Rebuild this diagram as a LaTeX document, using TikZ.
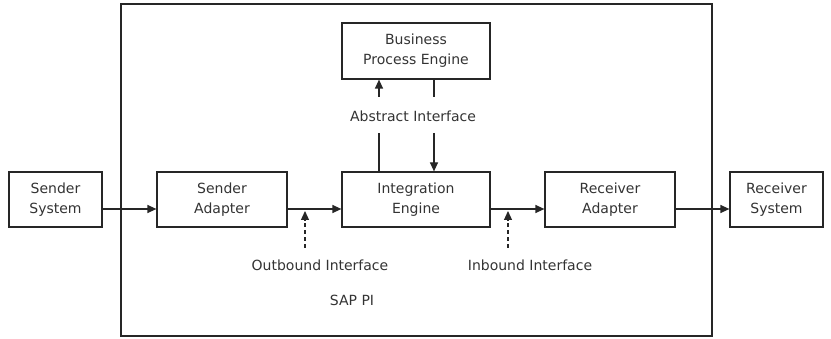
\documentclass[tikz,border=0pt]{standalone}
\usepackage{fontspec}
\setmainfont{DejaVu Sans}
\usetikzlibrary{arrows.meta}
\begin{document}
\begin{tikzpicture}[x=1pt,y=-1pt,
  every node/.style={font=\fontsize{14}{20}\selectfont, text=black!80},
  blk/.style={draw=black!85, line width=1.2pt, minimum height=55pt, align=center, inner sep=0pt},
  conn/.style={draw=black!85, line width=1.2pt},
  arr/.style={conn, -{Triangle[length=9pt,width=8pt]}},
  darr/.style={arr, dash pattern=on 4pt off 3pt}]
\useasboundingbox (0,0) rectangle (831,339);
\node[draw=black!85, line width=1.2pt, minimum width=591pt, minimum height=332pt, inner sep=0pt] (pi) at (416.5,170) {};
\node (pilab) at (352,300) {SAP PI};
\node[blk, minimum width=93pt] (ss) at (55.5,199.5) {Sender\\System};
\node[blk, minimum width=130pt] (sa) at (222,199.5) {Sender\\Adapter};
\node[blk, minimum width=148pt] (ie) at (416,199.5) {Integration\\Engine};
\node[blk, minimum width=148pt, minimum height=56pt] (bpe) at (416,51) {Business\\Process Engine};
\node[blk, minimum width=130pt] (ra) at (610,199.5) {Receiver\\Adapter};
\node[blk, minimum width=93pt] (rs) at (776.5,199.5) {Receiver\\System};
\node (ai) at (413,116) {Abstract Interface};
\node (ob) at (320,265) {Outbound Interface};
\node (ib) at (530,265) {Inbound Interface};
% main flow
\draw[arr] ([yshift=-9.5pt]ss.east) -- ([yshift=-9.5pt]sa.west);
\draw[arr] ([yshift=-9.5pt]sa.east) -- ([yshift=-9.5pt]ie.west);
\draw[arr] ([yshift=-9.5pt]ie.east) -- ([yshift=-9.5pt]ra.west);
\draw[arr] ([yshift=-9.5pt]ra.east) -- ([yshift=-9.5pt]rs.west);
% abstract interface
\coordinate (l1) at (379,133);
\coordinate (l2) at (379,97);
\coordinate (r1) at (434,97);
\coordinate (r2) at (434,133);
\draw[conn] (l1 |- ie.north) -- (l1);
\draw[arr] (l2) -- (l2 |- bpe.south);
\draw[conn] (r1 |- bpe.south) -- (r1);
\draw[arr] (r2) -- (r2 |- ie.north);
% dashed interfaces
\coordinate (ot) at (305,211);
\coordinate (it) at (508,211);
\draw[darr] (ot |- 0,248) -- (ot);
\draw[darr] (it |- 0,248) -- (it);
\end{tikzpicture}
\end{document}
